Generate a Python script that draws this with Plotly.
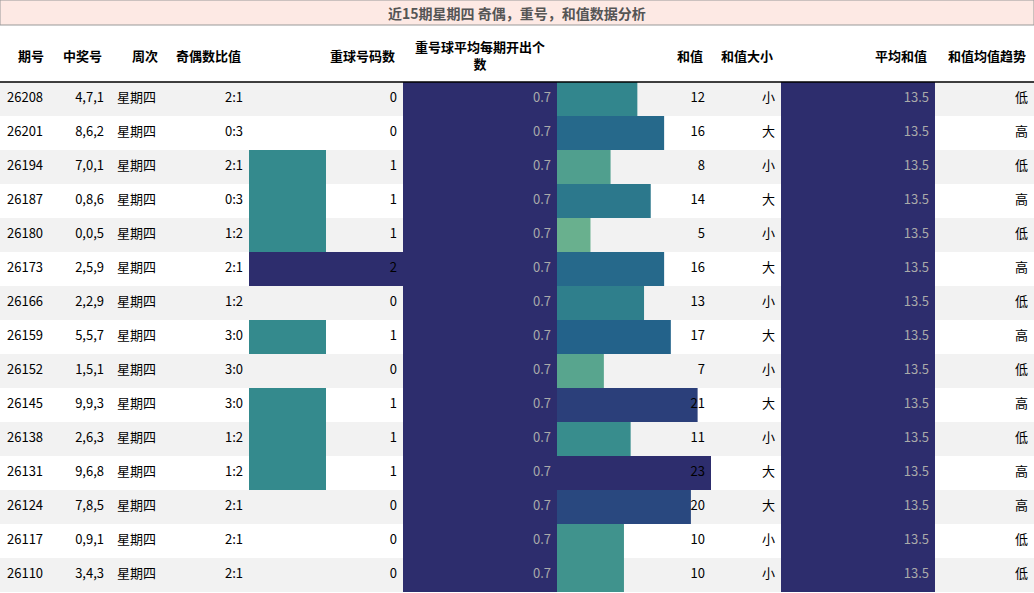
import plotly.graph_objects as go

qihao = ['26208', '26201', '26194', '26187', '26180', '26173', '26166', '26159',
         '26152', '26145', '26138', '26131', '26124', '26117', '26110']
haoma = ['4,7,1', '8,6,2', '7,0,1', '0,8,6', '0,0,5', '2,5,9', '2,2,9', '5,5,7',
         '1,5,1', '9,9,3', '2,6,3', '9,6,8', '7,8,5', '0,9,1', '3,4,3']
zhouci = ['星期四'] * 15
jiou = ['2:1', '0:3', '2:1', '0:3', '1:2', '2:1', '1:2', '3:0',
        '3:0', '3:0', '1:2', '1:2', '2:1', '2:1', '2:1']
chongqiu = [0, 0, 1, 1, 1, 2, 0, 1, 0, 1, 1, 1, 0, 0, 0]
chong_avg = [0.7] * 15
hezhi = [12, 16, 8, 14, 5, 16, 13, 17, 7, 21, 11, 23, 20, 10, 10]
daxiao = ['小', '大', '小', '大', '小', '大', '小', '大', '小', '大', '小', '大', '大', '小', '小']
he_avg = [13.5] * 15
qushi = ['低', '高', '低', '高', '低', '高', '低', '高', '低', '高', '低', '高', '高', '低', '低']

headers = ['期号', '中奖号', '周次', '奇偶数比值', '重球号码数', '重号球平均每期开出个<br>数',
           '和值', '和值大小', '平均和值', '和值均值趋势']

# column layout (pixels)
edges = [0, 52, 110, 166, 249, 403, 557, 711, 781, 935, 1034]
W, H = 1034, 593
top, rowh = 82, 34
ys = [top + rowh / 2 + rowh * i for i in range(len(qihao))]

crest = [[0, '#a5cd90'], [0.22, '#68b08e'], [0.5, '#348a8d'],
         [0.75, '#22608a'], [0.9, '#2b427c'], [1, '#2d2d6d']]

fig = go.Figure()
shapes = []
for i, y in enumerate(ys):
    if i % 2 == 0:
        shapes.append(dict(type='rect', x0=0, x1=W, y0=y - rowh / 2, y1=y + rowh / 2,
                           fillcolor='#f2f2f2', line_width=0, layer='below'))
shapes.append(dict(type='rect', x0=0, x1=W, y0=0, y1=25, fillcolor='#fde9e4',
                   line=dict(color='#999', width=1), layer='below'))
shapes.append(dict(type='line', x0=0, x1=W, y0=top, y1=top, line=dict(color='black', width=1.5)))

for col, vals in [(4, chongqiu), (5, chong_avg), (6, hezhi), (8, he_avg)]:
    x0, x1 = edges[col], edges[col + 1]
    m = max(vals)
    fig.add_trace(go.Bar(
        y=ys, x=[v / m * (x1 - x0) for v in vals], base=x0, orientation='h', width=rowh,
        marker=dict(color=[v / m for v in vals], colorscale=crest, cmin=0, cmax=1, line_width=0),
        hoverinfo='skip', showlegend=False))

font = 'Noto Sans CJK SC, Noto Sans, sans-serif'
cols = [qihao, haoma, zhouci, jiou, chongqiu, chong_avg, hezhi, daxiao, he_avg, qushi]
for c, vals in enumerate(cols):
    if c == 0:
        xs, pos = edges[0] + 7, 'middle right'
    elif c == 2:
        xs, pos = edges[2] + 7, 'middle right'
    else:
        xs, pos = edges[c + 1] - 6, 'middle left'
    color = '#aaaaaa' if c in (5, 8) else 'black'
    fig.add_trace(go.Scatter(
        x=[xs] * len(vals), y=ys, mode='text', text=[str(v) for v in vals],
        textposition=pos, textfont=dict(size=13, color=color, family=font),
        hoverinfo='skip', showlegend=False))

anns = [dict(x=W / 2, y=13, text='<b>近15期星期四 奇偶，重号，和值数据分析</b>', showarrow=False,
             font=dict(size=14, color='#555'), xanchor='center', yanchor='middle')]
for c, h in enumerate(headers):
    if c == 5:
        anns.append(dict(x=(edges[5] + edges[6]) / 2, y=55, text='<b>' + h + '</b>', showarrow=False,
                         xanchor='center', yanchor='middle', align='center', font=dict(size=13)))
    else:
        anns.append(dict(x=edges[c + 1] - 6, y=55, text='<b>' + h + '</b>', showarrow=False,
                         xanchor='right', yanchor='middle', font=dict(size=13)))

fig.update_layout(
    width=W, height=H, margin=dict(l=0, r=0, t=0, b=0),
    plot_bgcolor='white', paper_bgcolor='white', barmode='overlay',
    font=dict(family=font, color='black'),
    xaxis=dict(range=[0, W], visible=False, fixedrange=True),
    yaxis=dict(range=[H, 0], visible=False, fixedrange=True),
    shapes=shapes, annotations=anns)

fig.write_html('out.html', config={'displayModeBar': False},
               post_script="document.body.style.margin='0';document.body.style.overflow='hidden';")
